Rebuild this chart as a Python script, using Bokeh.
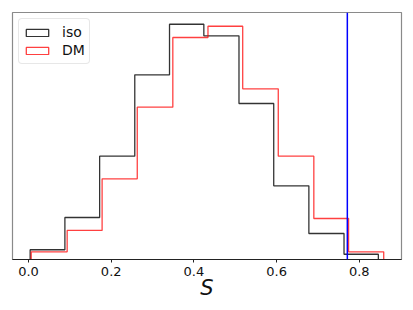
from bokeh.plotting import figure
from bokeh.models import Range1d, FixedTicker, Legend, LegendItem, Span
from bokeh.embed import file_html
from bokeh.resources import INLINE

# Histogram data (density)
iso_edges = [0.004, 0.088, 0.172, 0.257, 0.341, 0.424, 0.509, 0.593, 0.678, 0.763, 0.846]
iso_dens = [0.109, 0.470, 1.156, 2.067, 2.633, 2.504, 1.746, 0.825, 0.291, 0.059]
dm_edges = [0.0065, 0.0935, 0.178, 0.263, 0.349, 0.434, 0.518, 0.604, 0.690, 0.774, 0.859]
dm_dens = [0.086, 0.325, 0.903, 1.705, 2.485, 2.611, 1.910, 1.156, 0.459, 0.086]
vline_x = 0.771
tick_vals = [0.0, 0.2, 0.4, 0.6, 0.8]
tick_labels = ["0.0", "0.2", "0.4", "0.6", "0.8"]


def step_path(edges, heights):
    xs, ys = [edges[0]], [0.0]
    for i, h in enumerate(heights):
        xs += [edges[i], edges[i + 1]]
        ys += [h, h]
    xs.append(edges[-1])
    ys.append(0.0)
    return xs, ys


ymax = max(max(iso_dens), max(dm_dens)) * 1.05

p = figure(width=413, height=310, output_backend="svg", toolbar_location=None,
           x_range=Range1d(-0.0387, 0.902), y_range=Range1d(0, ymax),
           min_border_left=12, min_border_right=12, min_border_top=12, min_border_bottom=51)
p.background_fill_color = "white"
p.border_fill_color = "white"
p.grid.visible = False
p.yaxis.visible = False
p.outline_line_color = "#8a8a8a"
p.outline_line_width = 1.2

xa = p.xaxis[0]
xa.ticker = FixedTicker(ticks=tick_vals)
xa.major_label_overrides = {v: l for v, l in zip(tick_vals, tick_labels)}
xa.major_tick_out = 3
xa.major_tick_in = 0
xa.minor_tick_out = 0
xa.minor_tick_in = 0
xa.axis_line_color = "#222222"
xa.axis_line_width = 1.2
xa.major_tick_line_color = "#222222"
xa.major_label_text_font = "DejaVu Sans"
xa.major_label_text_font_size = "13px"
xa.major_label_text_color = "#111111"
xa.major_label_standoff = 4
xa.axis_label = "S"
xa.axis_label_text_font = "DejaVu Sans"
xa.axis_label_text_font_style = "italic"
xa.axis_label_text_font_size = "21px"
xa.axis_label_text_color = "#111111"
xa.axis_label_standoff = -3

ix, iy = step_path(iso_edges, iso_dens)
dx, dy = step_path(dm_edges, dm_dens)
p.line(ix, iy, line_color="black", line_width=1.3, line_alpha=0.8)
p.line(dx, dy, line_color="red", line_width=1.3, line_alpha=0.75)

p.add_layout(Span(location=vline_x, dimension="height", line_color="blue", line_width=1.5))

# legend proxies (outlined rectangles)
r_iso = p.quad(left=[0], right=[0], bottom=[0], top=[0], fill_color=None,
               line_color="black", line_alpha=0.8, line_width=1.3)
r_dm = p.quad(left=[0], right=[0], bottom=[0], top=[0], fill_color=None,
              line_color="red", line_alpha=0.75, line_width=1.3)

legend = Legend(items=[LegendItem(label="iso", renderers=[r_iso]),
                       LegendItem(label="DM", renderers=[r_dm])],
                location="top_left")
legend.margin = 6
legend.padding = 4
legend.spacing = 0
legend.glyph_width = 28
legend.glyph_height = 9
legend.label_height = 18
legend.label_standoff = 11
legend.label_text_font = "DejaVu Sans"
legend.label_text_font_size = "14px"
legend.label_text_color = "#111111"
legend.border_line_color = "#d0d0d0"
legend.border_line_width = 1
legend.border_radius = 4
legend.background_fill_color = "white"
legend.background_fill_alpha = 0.8
p.add_layout(legend)

open("out.html", "w").write(file_html(p, INLINE))
